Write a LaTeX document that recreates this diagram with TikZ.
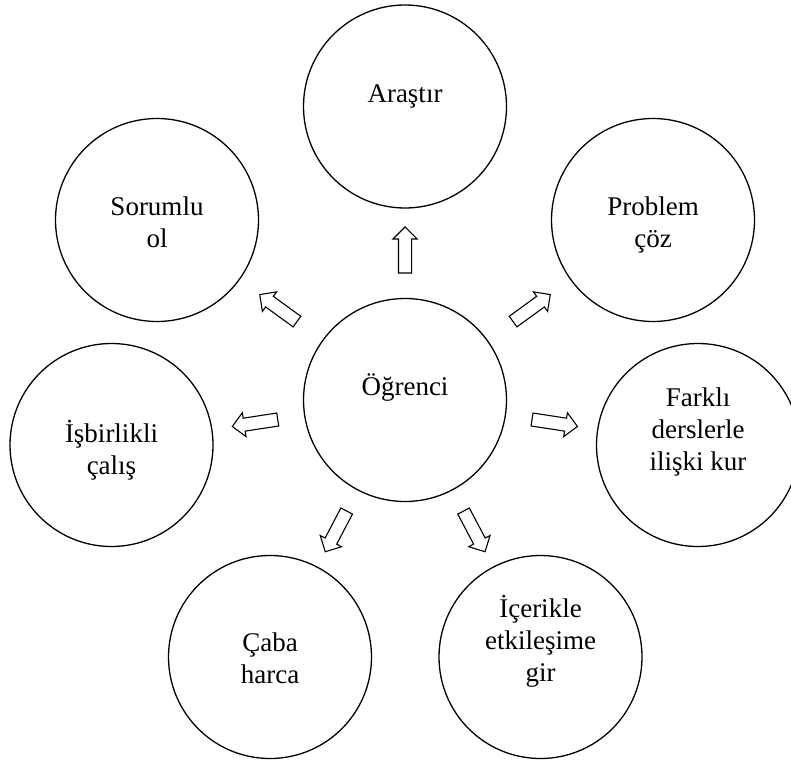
\documentclass[tikz,border=0pt]{standalone}
\usepackage{fontspec}
\setmainfont{Liberation Serif}
\usetikzlibrary{shapes}

\begin{document}
\begin{tikzpicture}[x=1pt,y=-1pt,
  topic/.style={draw,shape=circle,line width=1.3pt,minimum size=203pt,inner sep=0pt,align=center,font=\fontsize{27}{32}\selectfont},
  blockarrow/.style={draw,shape=single arrow,line width=1.1pt,minimum height=46pt,inner xsep=0pt,inner ysep=6pt,single arrow head extend=5.5pt,midway,sloped,allow upside down}]

\clip (0,0) rectangle (791,759);

\node (Ogrenci) at (405,400) [topic,text height=10pt,text depth=20pt]{Öğrenci};

\node (Arastir) at (405,106.5) [topic,text height=10pt,text depth=17pt]{Araştır};
\node (ProblemCoz) at (653,220) [topic,text height=54pt,text depth=0pt]{Problem\\çöz};
\node (FarkliDersler) at (698,445) [topic,text height=50pt,text depth=0pt]{Farklı\\derslerle\\ilişki kur};
\node (IcerikleEtkilesim) at (540.5,657) [topic,text height=48pt,text depth=0pt]{İçerikle\\etkileşime\\gir};
\node (CabaHarca) at (270,657) [topic,text height=52pt,text depth=0pt]{Çaba\\harca};
\node (Isbirlikli) at (111.5,445) [topic,text height=58pt,text depth=0pt]{İşbirlikli\\çalış};
\node (SorumluOl) at (157,220) [topic,text height=54pt,text depth=0pt]{Sorumlu\\ol};

\path (Ogrenci) -- (Arastir) node (ToArastir) [blockarrow]{};
\path (Ogrenci) -- (ProblemCoz) node (ToProblemCoz) [blockarrow]{};
\path (Ogrenci) -- (FarkliDersler) node (ToFarkliDersler) [blockarrow]{};
\path (Ogrenci) -- (IcerikleEtkilesim) node (ToIcerikleEtkilesim) [blockarrow]{};
\path (Ogrenci) -- (CabaHarca) node (ToCabaHarca) [blockarrow]{};
\path (Ogrenci) -- (Isbirlikli) node (ToIsbirlikli) [blockarrow]{};
\path (Ogrenci) -- (SorumluOl) node (ToSorumluOl) [blockarrow]{};

\end{tikzpicture}
\end{document}
